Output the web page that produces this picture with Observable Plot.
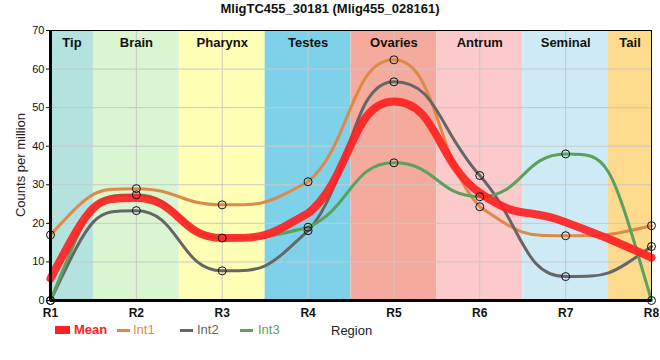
<!DOCTYPE html>
<html><head><meta charset="utf-8">
<script src="https://cdn.jsdelivr.net/npm/d3@7"></script>
<script src="https://cdn.jsdelivr.net/npm/@observablehq/plot@0.6"></script>
<style>
body{margin:0;background:#fff;font-family:"Liberation Sans",Arial,sans-serif;}
#wrap{position:relative;width:660px;height:360px;overflow:hidden;}
#title{position:absolute;top:1px;left:0;width:660px;text-align:center;font-weight:bold;font-size:13px;color:#111;}
#ylab{position:absolute;left:20px;top:165px;transform:translate(-50%,-50%) rotate(-90deg);font-size:13px;color:#222;white-space:nowrap;}
.lt{position:absolute;top:322px;white-space:nowrap;line-height:16px;font-size:13px;}
.sw{position:absolute;}
#xlab{position:absolute;left:331px;top:323px;font-size:13px;color:#222;}
svg{position:absolute;left:0;top:0;}
</style></head>
<body><div id="wrap"><div id="title">MligTC455_30181 (Mlig455_028161)</div></div>
<script>
const regions = ["R1","R2","R3","R4","R5","R6","R7","R8"];
const meanVals = [5.7, 26.6, 16.2, 22.6, 51.6, 27.9, 20.3, 11.1];
const int1 = [17.0, 29.0, 24.8, 30.8, 62.4, 24.3, 16.8, 19.4];
const int2 = [0.0, 23.3, 7.7, 18.1, 56.7, 32.4, 6.2, 14.0];
const int3 = [0.0, 27.4, 16.2, 19.0, 35.7, 26.9, 38.0, 0.0];
const bandNames = ["Tip","Brain","Pharynx","Testes","Ovaries","Antrum","Seminal","Tail"];
const bandStart = [1, 1.5, 2.5, 3.5, 4.5, 5.5, 6.5, 7.5];
const bandEnd = [1.5, 2.5, 3.5, 4.5, 5.5, 6.5, 7.5, 8];
const bandColors = ["#b4e2de","#d9f6d0","#ffffb6","#7dd2ea","#f4aa9c","#fdcacb","#ceebf5","#fdda8c"];
const seriesNames = ["Mean","Int1","Int2","Int3"];
const seriesColors = ["#ff2222","#dd8a48","#666666","#5aa05e"];

// smooth curve: half-interval handles, flat at local extrema,
// control points kept inside each segment's value range, quadratic end segments
function smoothCurve(context){
  let pts;
  const clamp = (v,a,b)=>Math.max(Math.min(a,b),Math.min(Math.max(a,b),v));
  return {
    areaStart(){}, areaEnd(){},
    lineStart(){ pts = []; },
    point(x,y){ pts.push([+x,+y]); },
    lineEnd(){
      const n = pts.length;
      if (!n) return;
      context.moveTo(pts[0][0], pts[0][1]);
      if (n === 1) return;
      if (n === 2) { context.lineTo(pts[1][0], pts[1][1]); return; }
      const m = new Array(n).fill(0);
      for (let i=1;i<n-1;i++){
        const a = pts[i][1]-pts[i-1][1], b = pts[i+1][1]-pts[i][1];
        m[i] = (a*b <= 0) ? 0 : (pts[i+1][1]-pts[i-1][1])/(pts[i+1][0]-pts[i-1][0]);
      }
      const h = 0.5;
      for (let i=0;i<n-1;i++){
        const p0=pts[i], p1=pts[i+1], d=(p1[0]-p0[0])*h;
        let c1y = p0[1]+d*m[i], c2y = p1[1]-d*m[i+1];
        if (i===0) c1y = c2y;
        if (i===n-2) c2y = c1y;
        c1y = clamp(c1y,p0[1],p1[1]); c2y = clamp(c2y,p0[1],p1[1]);
        context.bezierCurveTo(p0[0]+d, c1y, p1[0]-d, c2y, p1[0], p1[1]);
      }
    }
  };
}

const bands = bandNames.map((n,i)=>({name:n,x1:bandStart[i],x2:bandEnd[i],c:bandColors[i]}));
const series = [meanVals,int1,int2,int3];
const rows = [];
series.forEach((vals,s)=>vals.forEach((v,i)=>rows.push({s:seriesNames[s],x:i+1,y:v})));
const ints = rows.filter(d=>d.s!=="Mean");
const meanRows = rows.filter(d=>d.s==="Mean");

const chart = Plot.plot({
  width:660,height:360,marginTop:30,marginBottom:60,marginLeft:50,marginRight:9,
  x:{domain:[1,8]},
  y:{domain:[0,70]},
  style:{fontFamily:"'Liberation Sans',Arial,sans-serif",fontSize:"12px",background:"transparent",color:"#111"},
  marks:[
    Plot.rectY(bands,{x1:"x1",x2:"x2",y1:0,y2:70,fill:"c"}),
    Plot.gridX([1,2,3,4,5,6,7,8],{stroke:"#c8c8c8",strokeOpacity:1}),
    Plot.gridY(d3.range(0,80,10),{stroke:"#c8c8c8",strokeOpacity:1}),
    Plot.text(bands,{x:d=>(d.x1+d.x2)/2,y:70,text:"name",dy:12,fontWeight:"bold",fontSize:13,fill:"#111"}),
    Plot.line(ints,{x:"x",y:"y",z:"s",stroke:d=>seriesColors[seriesNames.indexOf(d.s)],strokeWidth:3,curve:smoothCurve}),
    Plot.line(meanRows,{x:"x",y:"y",stroke:seriesColors[0],strokeWidth:8,strokeOpacity:0.92,curve:smoothCurve}),
    Plot.dot(ints,{x:"x",y:"y",r:4,stroke:"#111",strokeWidth:1,fill:"none"}),
    Plot.frame({stroke:"#000",strokeWidth:1}),
    Plot.ruleX([1],{stroke:"#000",strokeWidth:3}),
    Plot.ruleY([0],{stroke:"#000",strokeWidth:3}),
    Plot.axisY(d3.range(0,80,10),{tickSize:4,tickPadding:2,label:null,fontSize:11}),
    Plot.axisX([1,2,3,4,5,6,7,8],{tickFormat:i=>regions[i-1],tickSize:0,tickPadding:8,label:null,fontSize:12,fontWeight:"bold"})
  ]
});
const wrap = document.getElementById("wrap");
wrap.appendChild(chart);

const yl = document.createElement("div"); yl.id="ylab"; yl.textContent="Counts per million"; wrap.appendChild(yl);
const xl = document.createElement("div"); xl.id="xlab"; xl.textContent="Region"; wrap.appendChild(xl);
const swX = [55,117,180,240];
const txX = [74,133,197,258];
seriesNames.forEach((n,i)=>{
  const sw = document.createElement("div"); sw.className="sw";
  sw.style.left = swX[i]+"px";
  sw.style.width = (i===0?15:13)+"px";
  sw.style.height = (i===0?8:3)+"px";
  sw.style.top = (i===0?326:329)+"px";
  sw.style.background = seriesColors[i];
  wrap.appendChild(sw);
  const t = document.createElement("div"); t.className="lt"; t.textContent=n;
  t.style.left = txX[i]+"px"; t.style.color = seriesColors[i];
  if(i===0) t.style.fontWeight="bold";
  wrap.appendChild(t);
});
</script></body></html>
